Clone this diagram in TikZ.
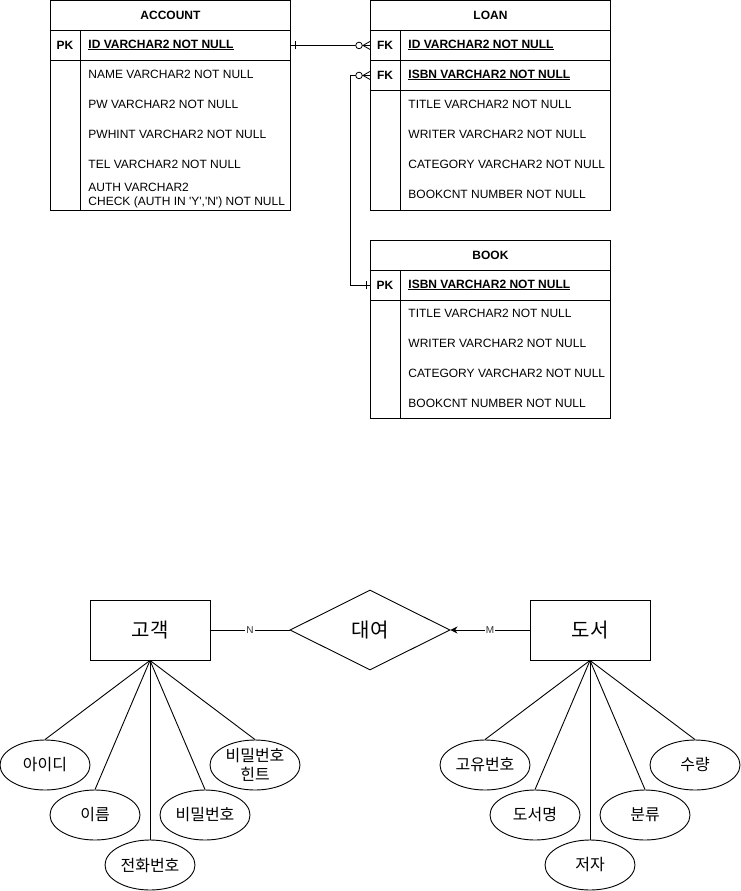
\documentclass[tikz,border=0pt]{standalone}
\usepackage{fontspec}
\setmainfont{Liberation Sans}
\newfontfamily\kr{Noto Sans CJK KR}
\usetikzlibrary{shapes.geometric,arrows.meta}
\begin{document}
\begin{tikzpicture}[x=1pt,y=-1pt,line width=0.9pt,
  cell/.style={draw,anchor=north west,minimum width=240,inner sep=0},
  txt/.style={anchor=west,inner sep=0,font=\fontsize{12}{14}\selectfont},
  key/.style={inner sep=0,font=\bfseries\fontsize{12}{14}\selectfont},
  hdr/.style={font=\bfseries\fontsize{12}{14}\selectfont},
  conn/.style={line width=0.8pt},
  ent/.style={draw,minimum width=120,minimum height=60,inner sep=0,font=\kr\fontsize{20}{22}\selectfont},
  rel/.style={draw,diamond,minimum width=160,minimum height=80,inner sep=0,aspect=2,font=\kr\fontsize{20}{22}\selectfont},
  attr/.style={draw,ellipse,minimum width=90,minimum height=50,inner sep=0,align=center,font=\kr\fontsize{16}{19}\selectfont},
  lbl/.style={fill=white,inner sep=1,text=black!80,font=\fontsize{10}{12}\selectfont}]
\useasboundingbox (0,0) rectangle (741,891);

% ACCOUNT
\node[cell,minimum height=30,hdr] (accH) at (50,0) {ACCOUNT};
\node[cell,minimum height=30] (accPK) at (50,30) {};
\node[cell,minimum height=150] (accB) at (50,60) {};
\draw ([xshift=30]accPK.north west) -- ([xshift=30]accB.south west);
\node[key] (accK) at (65,45) {PK};
\node[txt,font=\bfseries\fontsize{12}{14}\selectfont] (acc0) at (88,45) {\underline{ID VARCHAR2 NOT NULL}};
\node[txt] (acc1) at (88,74) {NAME VARCHAR2 NOT NULL};
\node[txt] (acc2) at (88,104) {PW VARCHAR2 NOT NULL};
\node[txt] (acc3) at (88,134) {PWHINT VARCHAR2 NOT NULL};
\node[txt] (acc4) at (88,164) {TEL VARCHAR2 NOT NULL};
\node[txt,align=left] (acc5) at (88,196) {AUTH VARCHAR2\\CHECK (AUTH IN \textquotesingle Y\textquotesingle,\textquotesingle N\textquotesingle) NOT NULL};

% LOAN
\node[cell,minimum height=30,hdr] (loanH) at (370,0) {LOAN};
\node[cell,minimum height=30] (loanF1) at (370,30) {};
\node[cell,minimum height=30] (loanF2) at (370,60) {};
\node[cell,minimum height=120] (loanB) at (370,90) {};
\draw ([xshift=30]loanF1.north west) -- ([xshift=30]loanB.south west);
\node[key] (loanK1) at (385,45) {FK};
\node[key] (loanK2) at (385,75) {FK};
\node[txt,font=\bfseries\fontsize{12}{14}\selectfont] (loan0) at (408,45) {\underline{ID VARCHAR2 NOT NULL}};
\node[txt,font=\bfseries\fontsize{12}{14}\selectfont] (loan1) at (408,75) {\underline{ISBN VARCHAR2 NOT NULL}};
\node[txt] (loan2t) at (408,104) {TITLE VARCHAR2 NOT NULL};
\node[txt] (loan3) at (408,134) {WRITER VARCHAR2 NOT NULL};
\node[txt] (loan4) at (408,164) {CATEGORY VARCHAR2 NOT NULL};
\node[txt] (loan5) at (408,194) {BOOKCNT NUMBER NOT NULL};

% BOOK
\node[cell,minimum height=30,hdr] (bookH) at (370,240) {BOOK};
\node[cell,minimum height=30] (bookPK) at (370,270) {};
\node[cell,minimum height=118] (bookB) at (370,300) {};
\draw ([xshift=30]bookPK.north west) -- ([xshift=30]bookB.south west);
\node[key] (bookK) at (385,285) {PK};
\node[txt,font=\bfseries\fontsize{12}{14}\selectfont] (book0) at (408,285) {\underline{ISBN VARCHAR2 NOT NULL}};
\node[txt] (book1) at (408,313) {TITLE VARCHAR2 NOT NULL};
\node[txt] (book2t) at (408,343) {WRITER VARCHAR2 NOT NULL};
\node[txt] (book3) at (408,373) {CATEGORY VARCHAR2 NOT NULL};
\node[txt] (book4) at (408,403) {BOOKCNT NUMBER NOT NULL};

% connectors
\draw[conn] (accPK.east) -- (loanF1.west);
\draw[conn] ([xshift=4,yshift=-4]accPK.east) -- ([xshift=4,yshift=4]accPK.east);
\draw[conn] ([xshift=-7]loanF1.west) -- ([yshift=-4]loanF1.west);
\draw[conn] ([xshift=-7]loanF1.west) -- ([yshift=4]loanF1.west);
\draw[conn,fill=white] ([xshift=-11]loanF1.west) circle[radius=3.3];

\draw[conn] (bookPK.west) -- ([xshift=-20]bookPK.west) |- (loanF2.west);
\draw[conn] ([xshift=-4,yshift=-4]bookPK.west) -- ([xshift=-4,yshift=4]bookPK.west);
\draw[conn] ([xshift=-7]loanF2.west) -- ([yshift=-4]loanF2.west);
\draw[conn] ([xshift=-7]loanF2.west) -- ([yshift=4]loanF2.west);
\draw[conn,fill=white] ([xshift=-11]loanF2.west) circle[radius=3.3];

% ER diagram
\node[ent] (cust) at (150,630) {고객};
\node[rel] (rent) at (370,630) {대여};
\node[ent] (bk) at (590,630) {도서};
\draw (cust) -- node[lbl] {N} (rent);
\draw[-{Stealth[length=7,width=7]}] (bk) -- node[lbl] {M} (rent);

\node[attr] (a1) at (45,765) {아이디};
\node[attr] (a2) at (95,815) {이름};
\node[attr] (a3) at (150,865) {전화번호};
\node[attr] (a4) at (205,815) {비밀번호};
\node[attr] (a5) at (255,765) {비밀번호\\힌트};
\foreach \n in {a1,a2,a3,a4,a5} \draw (cust.south) -- (\n.north);

\node[attr] (b1) at (485,765) {고유번호};
\node[attr] (b2) at (535,815) {도서명};
\node[attr] (b3) at (590,865) {저자};
\node[attr] (b4) at (645,815) {분류};
\node[attr] (b5) at (695,765) {수량};
\foreach \n in {b1,b2,b3,b4,b5} \draw (bk.south) -- (\n.north);
\end{tikzpicture}
\end{document}
